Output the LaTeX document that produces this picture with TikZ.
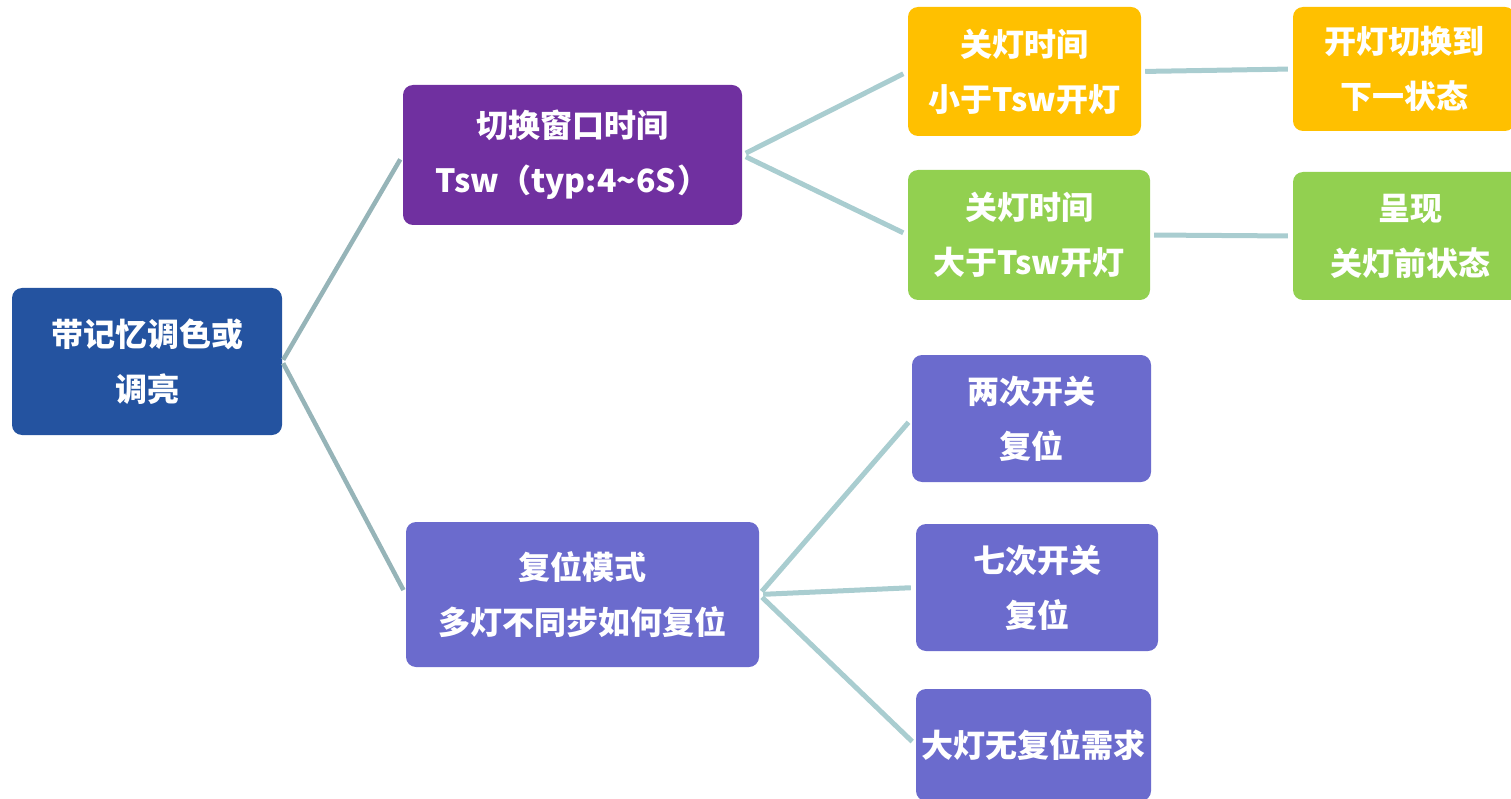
\documentclass[tikz,border=0pt]{standalone}
\usepackage{fontspec}
\setmainfont{Noto Sans CJK SC}
\usetikzlibrary{calc}
\definecolor{rootblue}{HTML}{2453A0}
\definecolor{purp}{HTML}{7030A0}
\definecolor{lav}{HTML}{6B6BCD}
\definecolor{orng}{HTML}{FFC000}
\definecolor{grn}{HTML}{92D050}
\definecolor{lineA}{HTML}{96B4B8}
\definecolor{lineB}{HTML}{A9CDD0}
\tikzset{
  box/.style={rectangle, rounded corners=10pt, text=white, align=center,
    font=\fontsize{32}{55}\selectfont\bfseries, inner sep=0pt},
  connA/.style={draw=lineA, line width=4.5pt, shorten <=2pt, shorten >=5pt},
  connB/.style={draw=lineB, line width=5pt, shorten <=4pt, shorten >=5pt},
}
\begin{document}
\begin{tikzpicture}[x=1pt,y=-1pt]
\useasboundingbox (0,0) rectangle (1511,799);
\clip (0,0) rectangle (1511,799);
\node[box, fill=rootblue, minimum width=270pt, minimum height=147pt] (root) at (147,361.5) {带记忆调色或\\调亮};
\node[box, fill=purp, minimum width=339pt, minimum height=140pt] (sw) at (572.5,155) {切换窗口时间\\Tsw（typ:4\char"007E 6S\kern1pt）};
\node[box, fill=lav, minimum width=353pt, minimum height=145pt] (rs) at (582.5,594.5) {复位模式\\多灯不同步如何复位};
\node[box, fill=orng, minimum width=233pt, minimum height=129pt] (o1) at (1024.5,71.5) {关灯时间\\小于Tsw开灯};
\node[box, fill=orng, minimum width=222pt, minimum height=124pt] (o2) at (1404,69) {开灯切换到\\下一状态};
\node[box, fill=grn, minimum width=242pt, minimum height=130pt] (g1) at (1029,235) {关灯时间\\大于Tsw开灯};
\node[box, fill=grn, minimum width=234pt, minimum height=128pt] (g2) at (1410,236) {呈现\\关灯前状态};
\node[box, fill=lav, minimum width=239pt, minimum height=127pt] (r2) at (1031.5,418.5) {两次开关\\复位};
\node[box, fill=lav, minimum width=242pt, minimum height=127pt] (r7) at (1037,587.5) {七次开关\\复位};
\node[box, fill=lav, minimum width=235pt, minimum height=112pt] (rb) at (1033.5,745) {大灯无复位需求};
\draw[connA] (root.east) -- (sw.west);
\draw[connA] (root.east) -- (rs.west);
\draw[connB] (sw.east) -- (o1.west);
\draw[connB] (sw.east) -- (g1.west);
\draw[connB] (rs.east) -- (r2.west);
\draw[connB] (rs.east) -- (r7.west);
\draw[connB] (rs.east) -- (rb.west);
\draw[connB] (o1.east) -- (o2.west);
\draw[connB] (g1.east) -- (g2.west);
\end{tikzpicture}
\end{document}
